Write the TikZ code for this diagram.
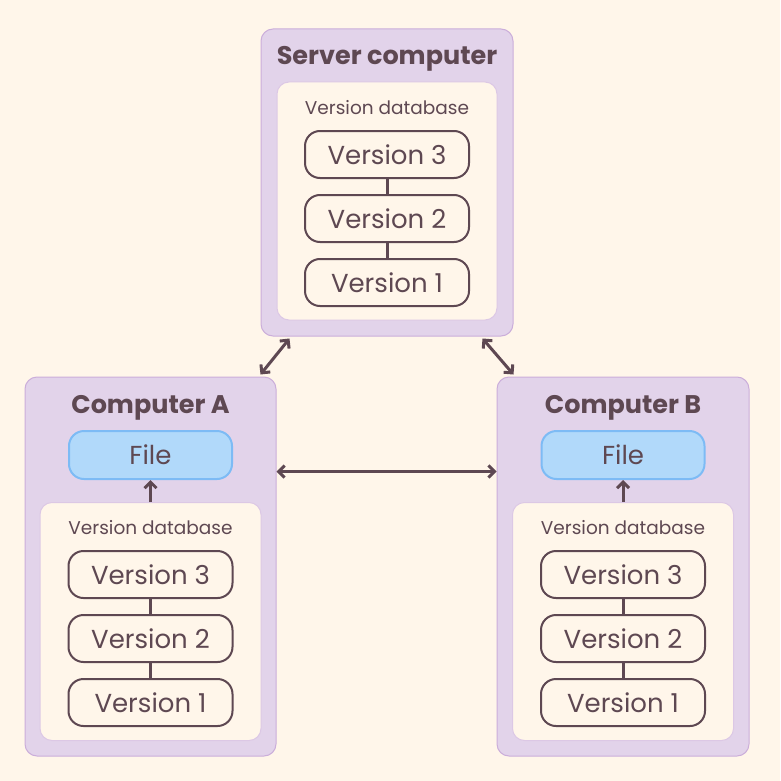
\documentclass[tikz,border=0pt]{standalone}
\usepackage{fontspec}
\setmainfont{Poppins}
\usetikzlibrary{arrows.meta,positioning}

\definecolor{bgcol}{HTML}{FFF6EA}
\definecolor{boxcol}{HTML}{E2D3EA}
\definecolor{boxline}{HTML}{CBAEDA}
\definecolor{dbline}{HTML}{DCC8E5}
\definecolor{inkcol}{HTML}{5E4852}
\definecolor{filecol}{HTML}{B1D9FA}
\definecolor{fileline}{HTML}{7DBBF5}

\tikzset{
  outerbox/.style={draw=boxline, fill=boxcol, line width=1pt, rounded corners=12pt},
  dbbox/.style={draw=dbline, fill=bgcol, line width=1pt, rounded corners=12pt, minimum width=221pt, minimum height=238pt},
  verbox/.style={draw=inkcol, fill=bgcol, line width=2pt, rounded corners=15pt, minimum width=164pt, minimum height=47pt, font=\fontsize{26}{30}\selectfont},
  filebox/.style={draw=fileline, fill=filecol, line width=2pt, rounded corners=15pt, minimum width=163pt, minimum height=48pt, font=\fontsize{26}{30}\selectfont},
  title/.style={font=\bfseries\fontsize{25.5}{30}\selectfont},
  dblabel/.style={font=\fontsize{18.5}{22}\selectfont},
  link/.style={draw=inkcol, line width=3pt},
  dbl/.style={draw=inkcol, line width=3pt, {Straight Barb[length=6pt,width=12pt]}-{Straight Barb[length=6pt,width=12pt]}}
}

\begin{document}
\begin{tikzpicture}[x=1pt, y=1pt, text=inkcol]

  \fill[bgcol] (0,0) rectangle (780,-781);
  \useasboundingbox (0,0) rectangle (780,-781);

  % server
  \node[outerbox, minimum width=252pt, minimum height=307pt] (srv) at (387,-182.5) {};
  \node[title] at (387,-59) {Server computer};
  \node[dbbox, minimum width=220pt] (srvdb) at (387,-201) {};
  \node[dblabel] at (387,-108) {Version database};
  \node[verbox] (s3) at (387,-154.5) {Version 3};
  \node[verbox, below=15pt of s3] (s2) {Version 2};
  \node[verbox, below=15pt of s2] (s1) {Version 1};
  \draw[link] (s3) -- (s2);
  \draw[link] (s2) -- (s1);

  % computer A
  \node[outerbox, minimum width=251pt, minimum height=379pt] (pcA) at (150.5,-566.5) {};
  \node[title] at (150.5,-408) {Computer A};
  \node[filebox] (fileA) at (150.5,-455) {File};
  \node[dbbox] (dbA) at (150.5,-621.5) {};
  \node[dblabel] at (150.5,-528) {Version database};
  \node[verbox] (a3) at (150.5,-574.5) {Version 3};
  \node[verbox, below=15pt of a3] (a2) {Version 2};
  \node[verbox, below=15pt of a2] (a1) {Version 1};
  \draw[link] (a3) -- (a2);
  \draw[link] (a2) -- (a1);
  \draw[link, -{Straight Barb[length=6pt,width=12pt]}] (dbA) -- (fileA);

  % computer B
  \node[outerbox, minimum width=252pt, minimum height=379pt] (pcB) at (623,-566.5) {};
  \node[title] at (623,-408) {Computer B};
  \node[filebox] (fileB) at (623,-455) {File};
  \node[dbbox] (dbB) at (623,-621.5) {};
  \node[dblabel] at (623,-528) {Version database};
  \node[verbox] (b3) at (623,-574.5) {Version 3};
  \node[verbox, below=15pt of b3] (b2) {Version 2};
  \node[verbox, below=15pt of b2] (b1) {Version 1};
  \draw[link] (b3) -- (b2);
  \draw[link] (b2) -- (b1);
  \draw[link, -{Straight Barb[length=6pt,width=12pt]}] (dbB) -- (fileB);

  % sync arrows
  \draw[dbl] ([xshift=29pt,yshift=-2pt]srv.south west) -- ([xshift=-16pt,yshift=2pt]pcA.north east);
  \draw[dbl] ([xshift=-31pt,yshift=-2pt]srv.south east) -- ([xshift=17pt,yshift=2pt]pcB.north west);
  \draw[dbl] ([yshift=95pt]pcA.east) -- ([yshift=95pt]pcB.west);

\end{tikzpicture}
\end{document}
